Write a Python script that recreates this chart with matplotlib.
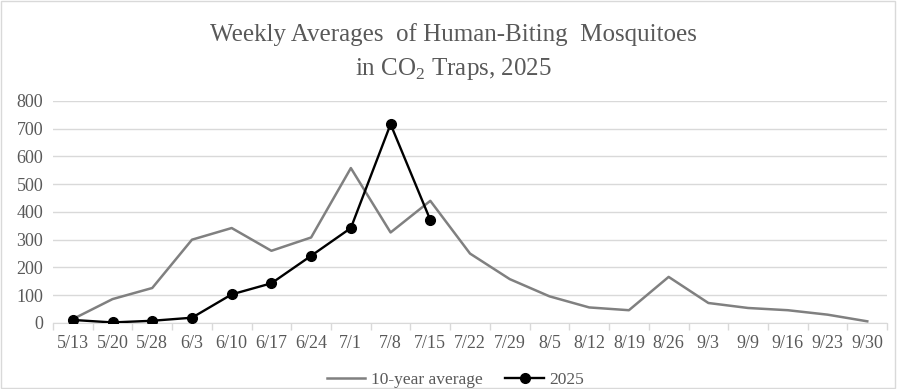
import matplotlib.pyplot as plt
from matplotlib.patches import Rectangle

plt.rcParams['font.family'] = ['Liberation Serif', 'DejaVu Serif']
plt.rcParams['mathtext.fontset'] = 'custom'
plt.rcParams['mathtext.rm'] = 'Liberation Serif'

weeks = ['5/13', '5/20', '5/28', '6/3', '6/10', '6/17', '6/24', '7/1', '7/8', '7/15',
         '7/22', '7/29', '8/5', '8/12', '8/19', '8/26', '9/3', '9/9', '9/16', '9/23', '9/30']
avg10 = [14, 86, 126, 300, 342, 260, 308, 558, 326, 440,
         250, 158, 96, 56, 46, 166, 72, 54, 46, 30, 6]
y2025 = [11, 2, 8, 19, 103, 143, 242, 342, 716, 371]

txt = '#595959'
fig = plt.figure(figsize=(8.97, 3.89), dpi=100)
ax = fig.add_axes([0.059, 0.1697, 0.930, 0.571])

x = list(range(len(weeks)))
ax.plot(x, avg10, color='#808080', lw=1.8, label='10-year average', zorder=3)
ax.plot(x[:len(y2025)], y2025, color='black', lw=1.7, marker='o', ms=7,
        label='2025', zorder=4)

ax.set_xlim(-0.5, len(weeks) - 0.5)
ax.set_ylim(0, 800)
ax.set_yticks(range(0, 801, 100))
ax.set_xticks(x)
ax.set_xticklabels(weeks)
ax.set_xticks([i - 0.5 for i in range(len(weeks) + 1)], minor=True)
ax.tick_params(axis='x', which='major', length=0, pad=9, labelsize=13, labelcolor=txt)
ax.tick_params(axis='x', which='minor', length=5, color='#d9d9d9', width=1)
ax.tick_params(axis='y', length=0, pad=7, labelsize=13, labelcolor=txt)
ax.grid(axis='y', color='#d9d9d9', lw=1)
ax.set_axisbelow(True)
for s in ['top', 'right', 'left']:
    ax.spines[s].set_visible(False)
ax.spines['bottom'].set_color('#d9d9d9')

fig.text(0.505, 0.912, 'Weekly Averages  of Human-Biting  Mosquitoes', ha='center', va='center',
         fontsize=18, color=txt)
fig.text(0.505, 0.822, r'in CO$_2$ Traps, 2025', ha='center', va='center',
         fontsize=18, color=txt)

fig.legend(loc='center', bbox_to_anchor=(0.508, 0.024), ncol=2, frameon=False,
           fontsize=12.5, labelcolor=txt, handlelength=2.2, handletextpad=0.35,
           columnspacing=1.3)

fig.patches.append(Rectangle((0.001, 0.002), 0.997, 0.995, transform=fig.transFigure,
                             fill=False, edgecolor='#d9d9d9', lw=1))
fig.savefig('out.png', dpi=100)
